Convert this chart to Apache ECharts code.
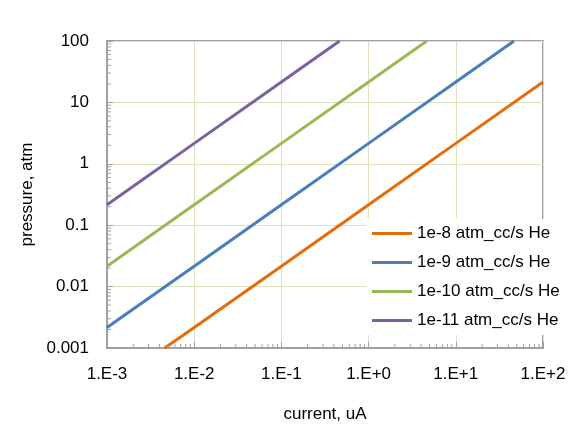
<!DOCTYPE html>
<html>
<head>
<meta charset="utf-8">
<script src="https://cdn.jsdelivr.net/npm/echarts@6/dist/echarts.min.js"></script>
<style>html,body{margin:0;padding:0;background:#fff;}#c{width:582px;height:428px;}</style>
</head>
<body>
<div id="c"></div>
<script>
var seriesNames = ['1e-8 atm_cc/s He', '1e-9 atm_cc/s He', '1e-10 atm_cc/s He', '1e-11 atm_cc/s He'];
var colors = ['#E46C0A', '#4A7EBB', '#98B954', '#7D60A0'];
var x1e8 = [0.0046, 0.01, 0.1, 1, 10, 100];
var y1e8 = [0.001, 0.00215, 0.0215, 0.215, 2.15, 21.5];
var x1e9 = [0.001, 0.01, 0.1, 1, 10, 46.5];
var y1e9 = [0.00215, 0.0215, 0.215, 2.15, 21.5, 100];
var x1e10 = [0.001, 0.01, 0.1, 1, 4.65];
var y1e10 = [0.0215, 0.215, 2.15, 21.5, 100];
var x1e11 = [0.001, 0.01, 0.1, 0.465];
var y1e11 = [0.215, 2.15, 21.5, 100];
var xTickLabels = {'0.001':'1.E-3','0.01':'1.E-2','0.1':'1.E-1','1':'1.E+0','10':'1.E+1','100':'1.E+2'};
var yTickLabels = {'0.001':'0.001','0.01':'0.01','0.1':'0.1','1':'1','10':'10','100':'100'};

function zip(xs, ys){ return xs.map(function(v,i){ return [v, ys[i]]; }); }
var allX = [x1e8, x1e9, x1e10, x1e11];
var allY = [y1e8, y1e9, y1e10, y1e11];

// minor tick positions (axis decoration)
var xMinor = [], yMinor = [];
for (var e = -3; e < 2; e++) for (var m = 2; m <= 9; m++) xMinor.push(m * Math.pow(10, e));
for (var e2 = -3; e2 < 2; e2++) for (var m2 = 2; m2 <= 9; m2++) yMinor.push(m2 * Math.pow(10, e2));

var FONT = 'Liberation Sans, Arial, sans-serif';
var FS = 17;
var axisGray = '#A0A0A0';
var gridGreen = '#D9E4C0';

function fmtKey(v){ return String(+v.toPrecision(6)); }

var series = seriesNames.map(function(n, i){
  return {
    name: n, type: 'line', data: zip(allX[i], allY[i]),
    showSymbol: false, symbol: 'none', lineStyle: {width: 3, color: colors[i]},
    itemStyle: {color: colors[i]}, z: 3, silent: true, animation: false
  };
});
var tickData = xMinor.map(function(v){ return [v, 'x']; }).concat(yMinor.map(function(v){ return [v, 'y']; }));
series.push({
  type: 'custom', silent: true, animation: false, z: 4,
  data: tickData.map(function(d, i){ return [i]; }),
  renderItem: function(params, api){
    var d = tickData[params.dataIndex];
    if (d[1] === 'x') {
      var p = api.coord([d[0], 0.001]);
      return {type: 'line', shape: {x1: p[0], y1: p[1], x2: p[0], y2: p[1] - 4}, style: {stroke: axisGray, lineWidth: 1}};
    } else {
      var q = api.coord([0.001, d[0]]);
      return {type: 'line', shape: {x1: q[0], y1: q[1], x2: q[0] + 4, y2: q[1]}, style: {stroke: axisGray, lineWidth: 1}};
    }
  },
  encode: {x: -1, y: -1}
});

var chart = echarts.init(document.getElementById('c'), null, {renderer: 'canvas'});
chart.setOption({
  animation: false,
  backgroundColor: '#fff',
  textStyle: {fontFamily: FONT},
  grid: {left: 107, right: 39, top: 41, bottom: 80, show: true, borderColor: axisGray, borderWidth: 2, backgroundColor: 'transparent'},
  legend: {
    orient: 'vertical', left: 366, top: 219, itemWidth: 40, itemHeight: 3, itemGap: 12,
    icon: 'rect', backgroundColor: '#fff', padding: [6, 10, 6, 6],
    data: seriesNames,
    textStyle: {fontFamily: FONT, fontSize: FS, color: '#000'},
    selectedMode: false
  },
  xAxis: {
    type: 'log', logBase: 10, min: 0.001, max: 100,
    name: 'current, uA', nameLocation: 'middle', nameGap: 58,
    nameTextStyle: {fontFamily: FONT, fontSize: FS, color: '#000'},
    axisLine: {show: true, lineStyle: {color: axisGray, width: 2}},
    axisTick: {show: true, inside: true, length: 6, lineStyle: {color: axisGray, width: 1}},
    axisLabel: {fontFamily: FONT, fontSize: FS, color: '#000', margin: 18,
      formatter: function(v){ return xTickLabels[fmtKey(v)] || ''; }},
    splitLine: {show: true, lineStyle: {color: gridGreen, width: 1}}
  },
  yAxis: {
    type: 'log', logBase: 10, min: 0.001, max: 100,
    name: 'pressure, atm', nameLocation: 'middle', nameGap: 68,
    nameTextStyle: {fontFamily: FONT, fontSize: FS, color: '#000'},
    axisLine: {show: true, lineStyle: {color: axisGray, width: 2}},
    axisTick: {show: true, inside: true, length: 6, lineStyle: {color: axisGray, width: 1}},
    axisLabel: {fontFamily: FONT, fontSize: FS, color: '#000', margin: 18,
      formatter: function(v){ return yTickLabels[fmtKey(v)] || ''; }},
    splitLine: {show: true, lineStyle: {color: gridGreen, width: 1}}
  },
  series: series
});
</script>
</body>
</html>
